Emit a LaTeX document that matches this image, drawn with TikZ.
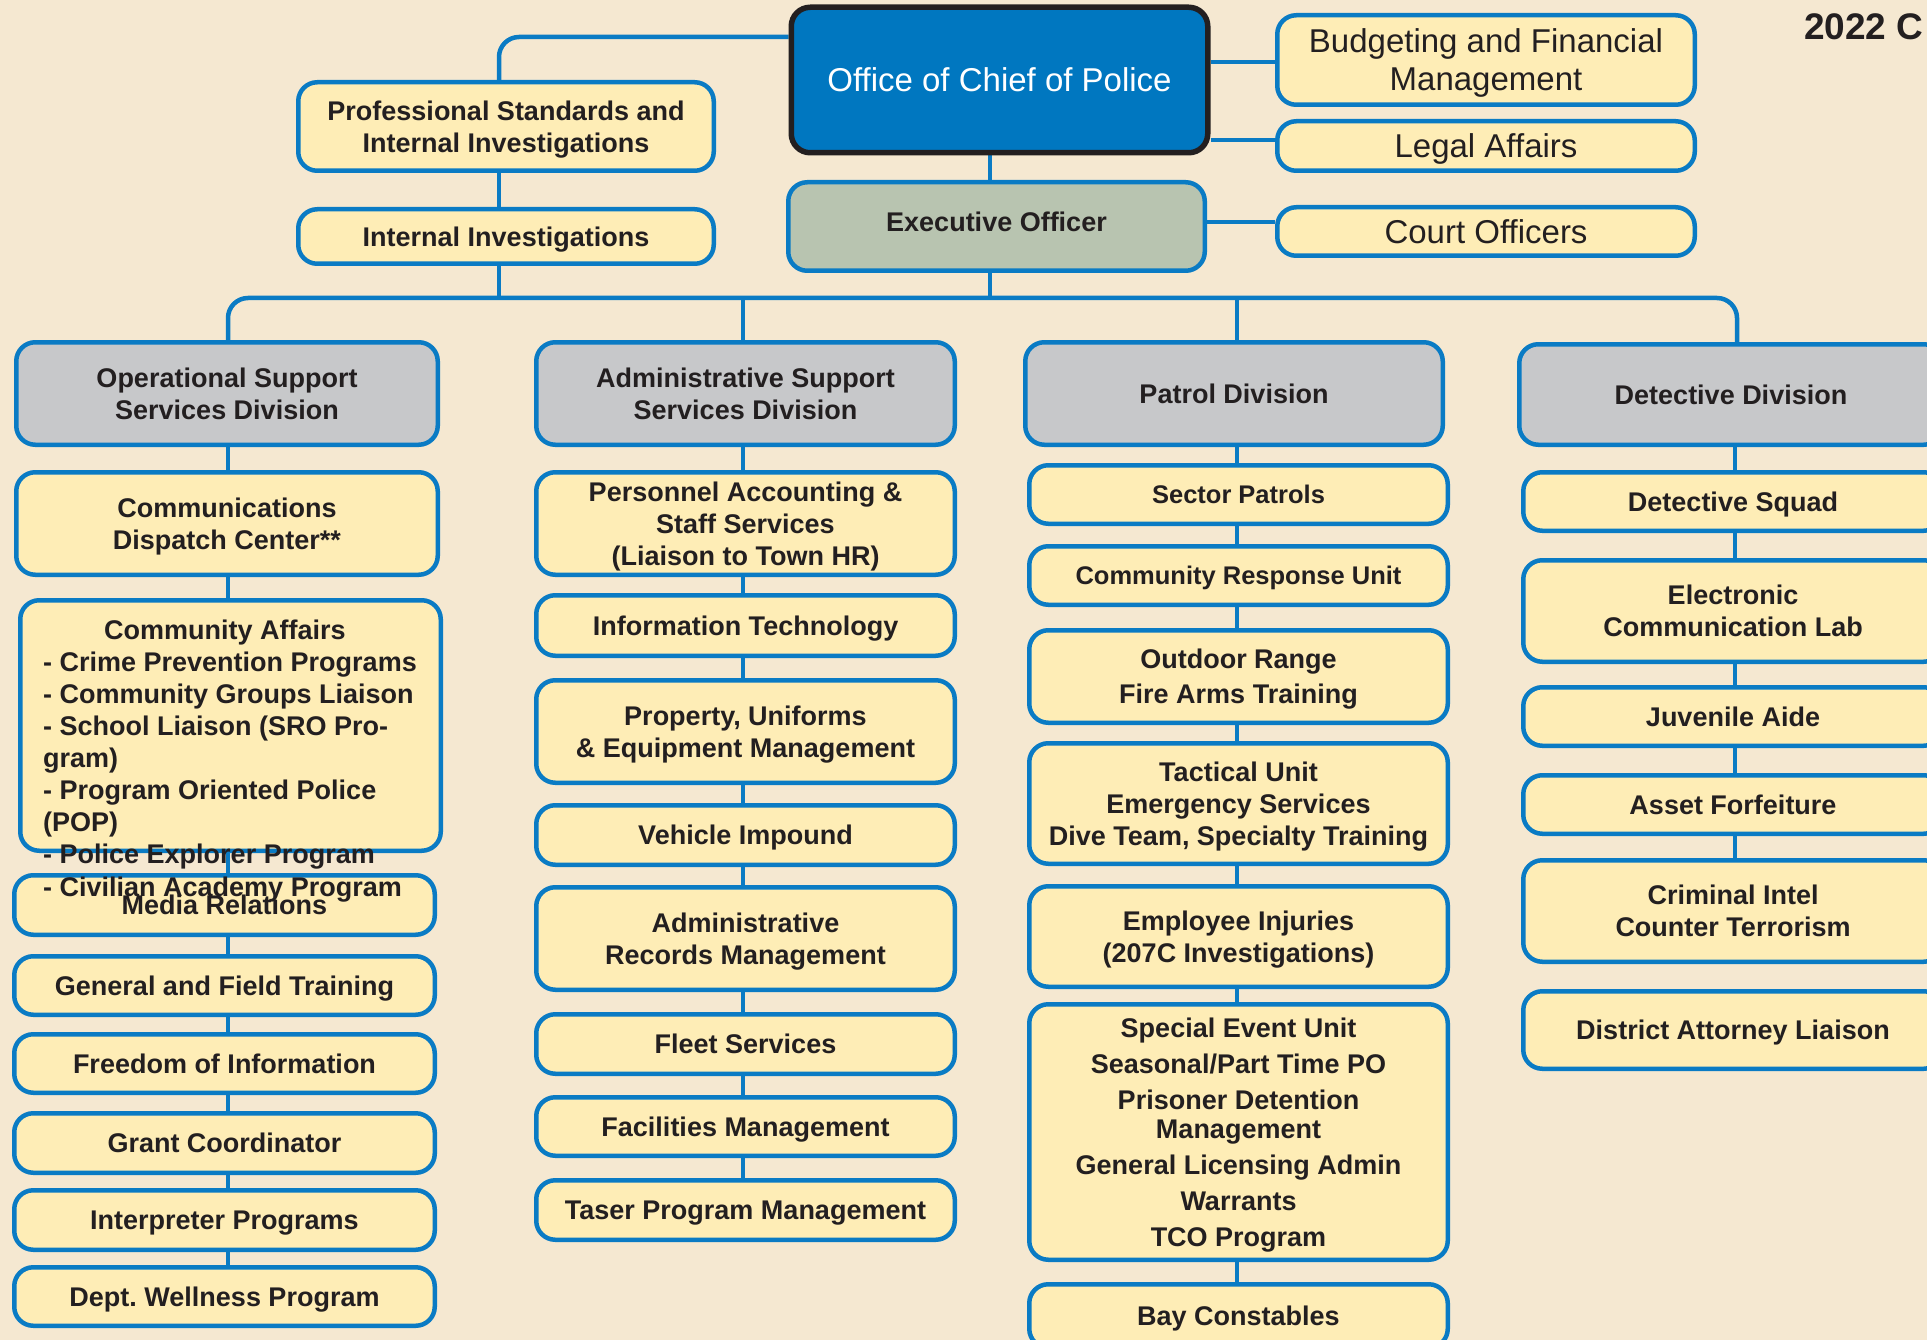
\documentclass[tikz,border=0pt]{standalone}
\usepackage{fontspec}
\setmainfont{Liberation Sans}
\frenchspacing
\definecolor{bgc}{HTML}{F5E8D1}
\definecolor{cyel}{HTML}{FEEDB6}
\definecolor{cblue}{HTML}{0A7BC4}
\definecolor{chiefc}{HTML}{0077C0}
\definecolor{cgrey}{HTML}{C7C8CA}
\definecolor{cexec}{HTML}{B8C4B0}
\definecolor{ctext}{HTML}{231F20}
\pgfdeclarelayer{back}
\pgfdeclarelayer{wires}
\pgfsetlayers{back,wires,main}
\newcommand\bodyfont{\fontsize{27}{32}\selectfont\bfseries}
\newcommand\narrowfont{\fontsize{25.5}{32}\selectfont\bfseries}
\newcommand\topfont{\fontsize{33}{38}\selectfont}
\newcommand\yearfont{\fontsize{37}{44}\selectfont\bfseries}
\newcommand\bx[6][box]{\node[#1, minimum width={(#4-#2-4.5)*1pt}, minimum height={(#5-#3-4.5)*1pt}] (#6) at ({(#2+#4)/2},{(#3+#5)/2})}
\begin{document}
\begin{tikzpicture}[x=1pt,y=-1pt,
  box/.style={draw=cblue, line width=4.5pt, fill=cyel, rounded corners=19pt, inner sep=0pt, align=center, text=ctext, font=\bodyfont, text depth=0pt},
  nbox/.style={box, font=\narrowfont},
  div/.style={box, fill=cgrey},
  exec/.style={box, fill=cexec, text depth=9pt},
  topr/.style={box, font=\topfont},
  chief/.style={box, fill=chiefc, draw=ctext, line width=5.5pt, text=white, font=\topfont},
  conn/.style={draw=cblue, line width=4.5pt},
  free/.style={inner sep=0pt, text=ctext, font=\bodyfont}]
\useasboundingbox (0,0) rectangle (1927,1340);
\clip (0,0) rectangle (1927,1340);
\begin{pgfonlayer}{back}
\fill[bgc] (0,0) rectangle (1927,1340);
\end{pgfonlayer}

% ---------- top ----------
\bx[chief]{789}{5}{1210}{155}{chief}{Office of Chief of Police};
\bx[topr]{1275}{13}{1697}{107}{budget}{Budgeting and Financial\\Management};
\bx[topr]{1275}{119}{1697}{173}{legal}{Legal Affairs};
\bx[topr]{1275}{205}{1697}{258}{court}{Court Officers};
\bx{296}{80}{716}{173}{prof}{Professional Standards and\\Internal Investigations};
\bx{296}{207}{716}{266}{internal}{Internal Investigations};
\bx[exec]{786}{180}{1207}{273}{exec}{Executive Officer};
\node[free, font=\yearfont, anchor=base west] (year) at (1804,40) {2022 C};

% ---------- column 1 ----------
\bx[div]{14}{340}{440}{447}{opdiv}{Operational Support\\Services Division};
\bx{14}{470}{440}{577}{comm}{Communications\\Dispatch Center**};
\bx{18}{598}{443}{853}{caff}{};
\bx{12}{873}{437}{937}{media}{Media Relations};
\bx{12}{954}{437}{1017}{general}{General and Field Training};
\bx{12}{1032}{437}{1095}{freedom}{Freedom of Information};
\bx{12}{1111}{437}{1175}{grant}{Grant Coordinator};
\bx{12}{1188}{437}{1252}{interp}{Interpreter Programs};
\bx{12}{1265}{437}{1328}{wellness}{Dept. Wellness Program};
\node[free, anchor=base] (catitle) at (225,639) {Community Affairs};
\node[free, anchor=base west] (ca1) at (43,671) {- Crime Prevention Programs};
\node[free, anchor=base west] (ca2) at (43,703) {- Community Groups Liaison};
\node[free, anchor=base west] (ca3) at (43,735) {- School Liaison (SRO Pro-};
\node[free, anchor=base west] (ca4) at (43,767) {gram)};
\node[free, anchor=base west] (ca5) at (43,799) {- Program Oriented Police};
\node[free, anchor=base west] (ca6) at (43,831) {(POP)};
\node[free, anchor=base west] (ca7) at (43,863) {- Police Explorer Program};
\node[free, anchor=base west] (ca8) at (43,896) {- Civilian Academy Program};

% ---------- column 2 ----------
\bx[div]{534}{340}{957}{447}{admdiv}{Administrative Support\\Services Division};
\bx{534}{470}{957}{577}{personnel}{Personnel Accounting \&\\Staff Services\\(Liaison to Town HR)};
\bx{534}{593}{957}{658}{itech}{Information Technology};
\bx{534}{678}{957}{785}{property}{Property, Uniforms\\\& Equipment Management};
\bx{534}{803}{957}{867}{vehicle}{Vehicle Impound};
\bx{534}{885}{957}{992}{records}{Administrative\\Records Management};
\bx{534}{1012}{957}{1076}{fleet}{Fleet Services};
\bx{534}{1095}{957}{1158}{facil}{Facilities Management};
\bx{534}{1178}{957}{1242}{taser}{Taser Program Management};

% ---------- column 3 ----------
\bx[div]{1023}{340}{1445}{447}{patrol}{Patrol Division};
\bx[nbox]{1027}{463}{1450}{526}{sector}{Sector Patrols};
\bx[nbox]{1027}{544}{1450}{607}{cru}{Community Response Unit};
\bx{1027}{628}{1450}{725}{outdoor}{Outdoor Range\\[3pt]Fire Arms Training};
\bx{1027}{741}{1450}{866}{tactical}{Tactical Unit\\Emergency Services\\Dive Team, Specialty Training};
\bx{1027}{884}{1450}{989}{injuries}{Employee Injuries\\(207C Investigations)};
\bx{1027}{1002}{1450}{1262}{special}{Special Event Unit\\[4pt]Seasonal/Part Time PO\\[4pt]Prisoner Detention\\[-3pt]Management\\[4pt]General Licensing Admin\\[4pt]Warrants\\[4pt]TCO Program};
\bx{1027}{1282}{1450}{1350}{bay}{Bay Constables};

% ---------- column 4 ----------
\bx[div]{1517}{342}{1945}{447}{detdiv}{Detective Division};
\bx{1521}{470}{1945}{533}{squad}{Detective Squad};
\bx{1521}{558}{1945}{664}{elec}{Electronic\\Communication Lab};
\bx{1521}{685}{1945}{748}{juv}{Juvenile Aide};
\bx{1521}{773}{1945}{836}{asset}{Asset Forfeiture};
\bx{1521}{858}{1945}{964}{crim}{Criminal Intel\\Counter Terrorism};
\bx{1521}{989}{1945}{1071}{dal}{District Attorney Liaison};

% ---------- connectors ----------
\coordinate (bus) at (0,298);
\coordinate (y37) at (0,37);
\coordinate (y62) at (0,62);
\coordinate (y140) at (0,140);
\coordinate (y222) at (0,222);
\coordinate (xp) at (499,0);
\coordinate (xc) at (990,0);
\coordinate (c1) at (228,0);
\coordinate (c2) at (743,0);
\coordinate (c3) at (1237,0);
\coordinate (c4) at (1735,0);
\coordinate (c4b) at (1737,0);
\begin{pgfonlayer}{wires}
\draw[conn, rounded corners=20pt] (chief.west |- y37) -- (xp |- y37) -- (xp |- prof.north);
\draw[conn] (xp |- prof.south) -- (xp |- internal.north);
\draw[conn] (xp |- internal.south) -- (xp |- bus);
\draw[conn] (chief.east |- y62) -- (budget.west |- y62);
\draw[conn] (chief.east |- y140) -- (legal.west |- y140);
\draw[conn] (exec.east |- y222) -- (court.west |- y222);
\draw[conn] (xc |- chief.south) -- (xc |- exec.north);
\draw[conn] (xc |- exec.south) -- (xc |- bus);
\draw[conn, rounded corners=20pt] (c1 |- opdiv.north) -- (c1 |- bus) -- (c4b |- bus) -- (c4b |- detdiv.north);
\draw[conn] (c2 |- bus) -- (c2 |- admdiv.north);
\draw[conn] (c3 |- bus) -- (c3 |- patrol.north);
% column 1
\draw[conn] (c1 |- opdiv.south) -- (c1 |- comm.north);
\draw[conn] (c1 |- comm.south) -- (c1 |- caff.north);
\draw[conn] (c1 |- caff.south) -- (c1 |- media.north);
\draw[conn] (c1 |- media.south) -- (c1 |- general.north);
\draw[conn] (c1 |- general.south) -- (c1 |- freedom.north);
\draw[conn] (c1 |- freedom.south) -- (c1 |- grant.north);
\draw[conn] (c1 |- grant.south) -- (c1 |- interp.north);
\draw[conn] (c1 |- interp.south) -- (c1 |- wellness.north);
% column 2
\draw[conn] (c2 |- admdiv.south) -- (c2 |- personnel.north);
\draw[conn] (c2 |- personnel.south) -- (c2 |- itech.north);
\draw[conn] (c2 |- itech.south) -- (c2 |- property.north);
\draw[conn] (c2 |- property.south) -- (c2 |- vehicle.north);
\draw[conn] (c2 |- vehicle.south) -- (c2 |- records.north);
\draw[conn] (c2 |- records.south) -- (c2 |- fleet.north);
\draw[conn] (c2 |- fleet.south) -- (c2 |- facil.north);
\draw[conn] (c2 |- facil.south) -- (c2 |- taser.north);
% column 3
\draw[conn] (c3 |- patrol.south) -- (c3 |- sector.north);
\draw[conn] (c3 |- sector.south) -- (c3 |- cru.north);
\draw[conn] (c3 |- cru.south) -- (c3 |- outdoor.north);
\draw[conn] (c3 |- outdoor.south) -- (c3 |- tactical.north);
\draw[conn] (c3 |- tactical.south) -- (c3 |- injuries.north);
\draw[conn] (c3 |- injuries.south) -- (c3 |- special.north);
\draw[conn] (c3 |- special.south) -- (c3 |- bay.north);
% column 4
\draw[conn] (c4 |- detdiv.south) -- (c4 |- squad.north);
\draw[conn] (c4 |- squad.south) -- (c4 |- elec.north);
\draw[conn] (c4 |- elec.south) -- (c4 |- juv.north);
\draw[conn] (c4 |- juv.south) -- (c4 |- asset.north);
\draw[conn] (c4 |- asset.south) -- (c4 |- crim.north);
\end{pgfonlayer}
\end{tikzpicture}
\end{document}
